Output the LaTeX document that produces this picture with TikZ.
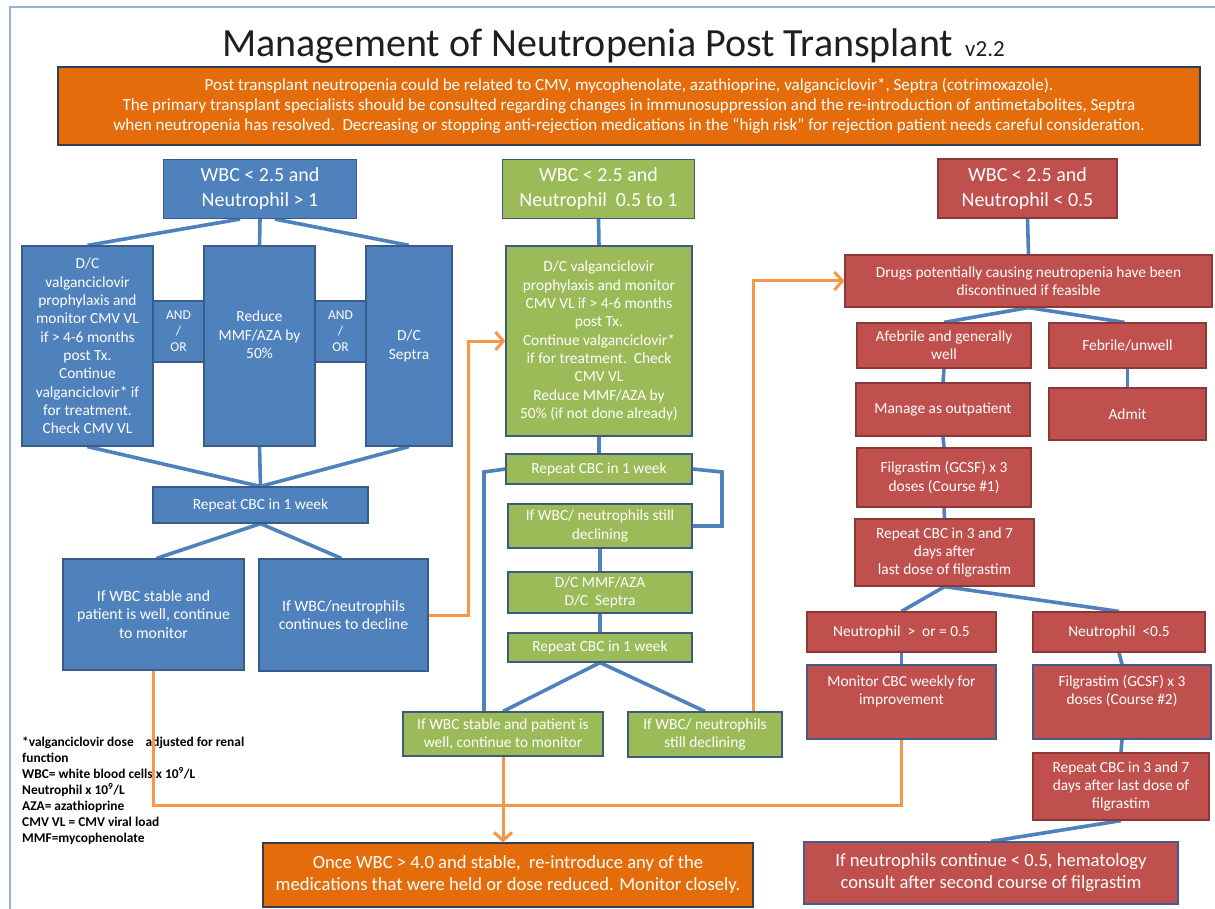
\documentclass[tikz,border=0pt]{standalone}
\usepackage{fontspec}
\setmainfont{Carlito}
\usetikzlibrary{arrows.meta,backgrounds}
\definecolor{cblue}{HTML}{4F81BD}
\definecolor{cblueb}{HTML}{385D8A}
\definecolor{cgreen}{HTML}{9BBB59}
\definecolor{cgreenb}{HTML}{3E5A7C}
\definecolor{cred}{HTML}{C0504D}
\definecolor{credb}{HTML}{8C3836}
\definecolor{credbb}{HTML}{3F5E8F}
\definecolor{corange}{HTML}{E46C0A}
\definecolor{corangeb}{HTML}{2F3F57}
\definecolor{cline}{HTML}{4F81BD}
\definecolor{coline}{HTML}{F79646}
\definecolor{cframe}{HTML}{95B3D7}
\newcommand\fs[2]{\fontsize{#1}{#2}\selectfont}
\begin{document}
\begin{tikzpicture}[x=1pt,y=-1pt,
  box/.style={line width=1.2pt, text=white, align=center, inner sep=1pt, font=\fs{15.4}{18.3}, anchor=center},
  bbox/.style={box, fill=cblue, draw=cblueb},
  gbox/.style={box, fill=cgreen, draw=cgreenb},
  rbox/.style={box, fill=cred, draw=credb},
  rboxb/.style={box, fill=cred, draw=credbb},
  obox/.style={box, fill=corange, draw=corangeb},
  hdr/.style={font=\fs{20}{25}},
  big/.style={font=\fs{18.6}{22}},
  txt/.style={text=white, align=center, inner sep=0pt, font=\fs{15.4}{18.3}},
  bline/.style={draw=cline, line width=3.6pt},
  oline/.style={draw=coline, line width=3pt},
  oarrow/.style={oline, -{Straight Barb[length=8pt,width=18pt,line width=3pt]}},
  sz/.style 2 args={minimum width=#1pt, minimum height=#2pt},
]
\useasboundingbox (0,0) rectangle (1215,909);
\draw[cframe, line width=1.5pt] (1216,7) -- (10,7) -- (10,910);

% title
\node[anchor=base west, inner sep=0pt, text=black!88] (title) at (222,57)
  {{\fs{40}{44}Management of Neutropenia Post Transplant}\hspace{12pt}{\fs{23}{26}v2.2}};

% banner
\node[obox, sz={1142}{78}, font=\fs{17}{20}] (banner) at (629,106)
  {Post transplant neutropenia could be related to CMV, mycophenolate, azathioprine, valganciclovir*, Septra (cotrimoxazole).\\
   The primary transplant specialists should be consulted regarding changes in immunosuppression and the re-introduction of antimetabolites, Septra\\
   when neutropenia has resolved.\ \ Decreasing or stopping anti-rejection medications in the “high risk” for rejection patient needs careful consideration.};

% ---------- blue column
\node[bbox, hdr, sz={193}{59}] (bh) at (260,189) {WBC < 2.5 and\\Neutrophil > 1};
\node[bbox, sz={131}{200}] (b1) at (87.5,346) {D/C\\valganciclovir\\prophylaxis and\\monitor CMV VL\\if > 4-6 months\\post Tx.\\Continue\\valganciclovir* if\\for treatment.\\Check CMV VL};
\node[bbox, sz={51}{61}, font=\fs{13.5}{16}] (ao1) at (178.5,331.5) {AND\\/\\OR};
\node[bbox, sz={111}{200}] (b2) at (259.5,346) {};
\node[txt] (b2t) at (259.5,335) {Reduce\\MMF/AZA by\\50\%};
\node[bbox, sz={51}{61}, font=\fs{13.5}{16}] (ao2) at (340.5,331.5) {AND\\/\\OR};
\node[bbox, sz={86}{200}] (b3) at (409,346) {D/C\\Septra};
\node[bbox, sz={215}{36}] (brep) at (260.5,505) {Repeat CBC in 1 week};
\node[bbox, sz={181}{111}, font=\fs{15.8}{18.3}] (bs) at (153.5,614.5) {If WBC stable and\\patient is well, continue\\to monitor};
\node[bbox, sz={169}{112}, font=\fs{15.8}{18.3}] (bd) at (343.5,615) {If WBC/neutrophils\\continues to decline};

% ---------- green column
\node[gbox, hdr, sz={192}{59}] (gh) at (598.5,189) {WBC < 2.5 and\\Neutrophil\ \ 0.5 to 1};
\node[gbox, sz={186}{190}] (g1) at (599,341) {D/C valganciclovir\\prophylaxis and monitor\\CMV VL if > 4-6 months\\post Tx.\\Continue valganciclovir*\\if for treatment.\ \ Check\\CMV VL\\Reduce MMF/AZA by\\50\% (if not done already)};
\node[gbox, sz={186}{30}] (grep1) at (599,469) {Repeat CBC in 1 week};
\node[gbox, sz={184}{44}] (gdec1) at (600,526) {If WBC/ neutrophils still\\declining};
\node[gbox, sz={184}{41}] (gdc) at (600,592.5) {D/C MMF/AZA\\D/C\ \ Septra};
\node[gbox, sz={184}{29}] (grep2) at (600,647.5) {Repeat CBC in 1 week};
\node[gbox, sz={200}{44}] (gs) at (503,734) {If WBC stable and patient is\\well, continue to monitor};
\node[gbox, sz={154}{45}] (gd) at (705,734.5) {If WBC/ neutrophils\\still declining};

% ---------- red column
\node[rbox, hdr, sz={179}{59}] (rh) at (1027.5,188.5) {WBC < 2.5 and\\Neutrophil < 0.5};
\node[rbox, sz={367}{52}] (rdrugs) at (1028.5,281) {Drugs potentially causing neutropenia have been\\discontinued if feasible};
\node[rbox, sz={174}{45}] (raf) at (944,345.5) {Afebrile and generally\\well};
\node[rbox, sz={157}{45}] (rfe) at (1127.5,345.5) {Febrile/unwell};
\node[rbox, sz={174}{53}] (rman) at (943,409.5) {Manage as outpatient};
\node[rbox, sz={157}{52}] (radm) at (1127.5,414) {Admit};
\node[rbox, sz={174}{59}] (rfil1) at (944,477.5) {Filgrastim (GCSF) x 3\\doses (Course \#1)};
\node[rbox, sz={179}{67}] (rrep1) at (944.5,552.5) {Repeat CBC in 3 and 7\\days after\\last dose of filgrastim};
\node[rbox, sz={189}{40}] (rge) at (901.5,632) {Neutrophil\ \ >\ \ or = 0.5};
\node[rbox, sz={172}{40}] (rlt) at (1119,632) {Neutrophil\ \ <0.5};
\node[rboxb, sz={189}{74}] (rmon) at (901.5,702) {Monitor CBC weekly for\\improvement\\[6pt]};
\node[rboxb, sz={178}{74}] (rfil2) at (1122,702) {Filgrastim (GCSF) x 3\\doses (Course \#2)\\[6pt]};
\node[rbox, sz={176}{67}] (rrep2) at (1121,786.5) {Repeat CBC in 3 and 7\\days after last dose of\\filgrastim};
\node[rboxb, big, sz={374}{62}] (rfinal) at (991,873) {If neutrophils continue < 0.5, hematology\\consult after second course of filgrastim};

% ---------- bottom orange
\node[obox, big, sz={490}{64}] (obot) at (508,875) {Once WBC > 4.0 and stable,\ \ re-introduce any of the\\medications that were held or dose reduced. Monitor closely.};

% legend
\node[anchor=north west, inner sep=0pt, align=left, text=black, font=\bfseries\fs{13.4}{16}] (legend) at (22,737)
  {*valganciclovir dose\hspace{12pt}adjusted for renal\\
   function\\
   WBC= white blood cells x 10\textsuperscript{9}/L\\
   Neutrophil x 10\textsuperscript{9}/L\\
   AZA= azathioprine\\
   CMV VL = CMV viral load\\
   MMF=mycophenolate};

% ---------- blue connectors (behind boxes)
\coordinate (loopL) at (484,472);
\coordinate (loopR) at (722,472);
\begin{pgfonlayer}{background}
\fill[white] (0,0) rectangle (1215,909);
\draw[bline] ([xshift=-20pt]bh.south) -- (b1.north);
\draw[bline] (bh.south) -- (b2.north);
\draw[bline] ([xshift=15pt]bh.south) -- (b3.north);
\draw[bline] (b1.south) -- (brep.north);
\draw[bline] (b2.south) -- (brep.north);
\draw[bline] (b3.south) -- (brep.north);
\draw[bline] (brep.south) -- ([xshift=3pt]bs.north);
\draw[bline] (brep.south) -- ([xshift=-2pt]bd.north);
\draw[bline] (gh.south) -- (g1.north);
\draw[bline] (g1.south) -- (grep1.north);
\draw[bline] (grep1.west) -- (loopL) -- (loopL |- gs.north);
\draw[bline] (grep1.east) -- (loopR) |- (gdec1.east);
\draw[bline] (gdec1.south) -- (gdc.north);
\draw[bline] (gdc.south) -- (grep2.north);
\draw[bline] (grep2.south) -- (gs.north);
\draw[bline] (grep2.south) -- (gd.north);
\draw[bline] (rh.south) -- (rdrugs.north);
\draw[bline] (rdrugs.south) -- (raf.north);
\draw[bline] (rdrugs.south) -- ([xshift=-3pt]rfe.north);
\draw[bline] (raf.south) -- (rman.north);
\draw[bline] (rfe.south) -- (radm.north);
\draw[bline] (rman.south) -- (rfil1.north);
\draw[bline] (rfil1.south) -- (rrep1.north);
\draw[bline] (rrep1.south) -- (rge.north);
\draw[bline] (rrep1.south) -- (rlt.north);
\draw[bline] (rge.south) -- (rmon.north);
\draw[bline] (rlt.south) -- (rfil2.north);
\draw[bline] (rfil2.south) -- (rrep2.north);
\draw[bline] (rrep2.south) -- (rfinal.north);
\end{pgfonlayer}

% ---------- orange connectors
\coordinate (o1) at (468,615);
\coordinate (o2) at (753,281);
\coordinate (o3) at (153.5,805);
\draw[oarrow] (bd.east) -- (o1) |- (g1.west);
\draw[oarrow] (gd.north -| o2) -- (o2) -- (rdrugs.west);
\draw[oline] (bs.south) -- (o3) -- (o3 -| rmon.south) -- (rmon.south);
\draw[oarrow] (gs.south) -- (gs.south |- obot.north);
\end{tikzpicture}
\end{document}
